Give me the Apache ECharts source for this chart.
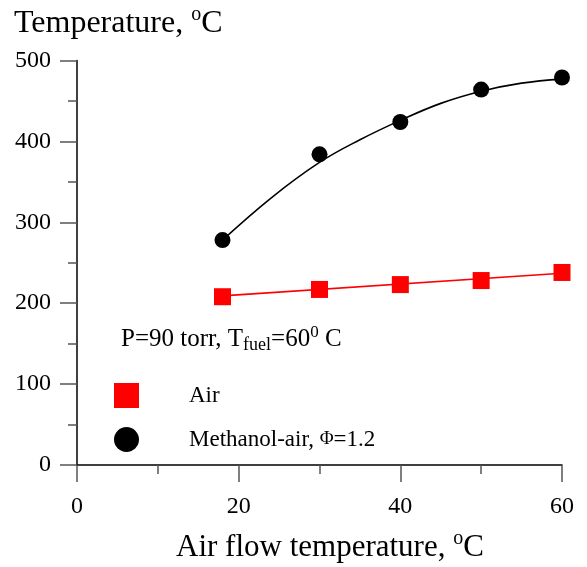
<!DOCTYPE html>
<html>
<head>
<meta charset="utf-8">
<script src="https://cdn.jsdelivr.net/npm/echarts@6/dist/echarts.min.js"></script>
<style>
  html, body { margin: 0; padding: 0; background: #fff; }
  #chart { width: 587px; height: 567px; }
</style>
</head>
<body>
<div id="chart"></div>
<script>
// measured points
const airFlowTemp = [18, 30, 40, 50, 60]
const airTemp = [208, 217, 223, 228, 238]
const methanolTemp = [278, 384, 424, 464, 479]

// fitted curves
const airFitX = [18, 60]
const airFitTemp = [209, 237]
const methanolFitX = [18, 24, 30, 35, 40, 45, 50, 55, 60]
const methanolFitTemp = [278, 330, 374, 402, 426, 447, 462, 472, 477]

const xTicks = [0, 20, 40, 60]
const yTicks = [0, 100, 200, 300, 400, 500]

const FONT = '"Liberation Serif", "Times New Roman", serif'

const pairs = (xs, ys) => xs.map((x, i) => [x, ys[i]])

const chart = echarts.init(document.getElementById('chart'))

const option = {
	animation: false,
	grid: { left: 77, right: 25, top: 60.5, bottom: 102, containLabel: false },
	xAxis: {
		type: 'value',
		min: xTicks[0],
		max: xTicks[xTicks.length - 1],
		interval: 20,
		axisLine: { show: true, onZero: false, lineStyle: { color: '#000', width: 1.5 } },
		axisTick: { show: true, length: 17, lineStyle: { color: '#555', width: 1.5 } },
		minorTick: { show: true, splitNumber: 2, length: 9, lineStyle: { color: '#555', width: 1.5 } },
		splitLine: { show: false },
		axisLabel: { margin: 30, fontFamily: FONT, fontSize: 24, color: '#000' }
	},
	yAxis: {
		type: 'value',
		min: yTicks[0],
		max: yTicks[yTicks.length - 1],
		interval: 100,
		axisLine: { show: true, lineStyle: { color: '#000', width: 1.5 } },
		axisTick: { show: true, length: 17, lineStyle: { color: '#555', width: 1.5 } },
		minorTick: { show: true, splitNumber: 2, length: 9, lineStyle: { color: '#555', width: 1.5 } },
		splitLine: { show: false },
		axisLabel: { margin: 26, fontFamily: FONT, fontSize: 24, color: '#000' }
	},
	legend: {
		orient: 'vertical',
		left: 114,
		top: 383,
		itemWidth: 25,
		itemHeight: 25,
		itemGap: 19,
		padding: 0,
		data: [
			{ name: 'Air', icon: 'rect' },
			{ name: 'Methanol-air', icon: 'circle' }
		],
		formatter: (name) => name === 'Methanol-air' ? 'Methanol-air, {phi|Φ}=1.2' : name,
		textStyle: {
			fontFamily: FONT,
			fontSize: 23,
			color: '#000',
			padding: [0, 0, 0, 45],
			rich: {
				phi: { fontFamily: FONT, fontSize: 19, color: '#000' }
			}
		}
	},
	graphic: [
		{
			type: 'text',
			left: 14,
			top: 5,
			style: {
				text: '{a|Temperature, }{s|o}{a|C}',
				fill: '#000',
				rich: {
					a: { fontFamily: FONT, fontSize: 32, lineHeight: 38 },
					s: { fontFamily: FONT, fontSize: 20, lineHeight: 22, verticalAlign: 'top' }
				}
			}
		},
		{
			type: 'text',
			left: 176,
			top: 529,
			style: {
				text: '{a|Air flow temperature, }{s|o}{a|C}',
				fill: '#000',
				rich: {
					a: { fontFamily: FONT, fontSize: 31, lineHeight: 37 },
					s: { fontFamily: FONT, fontSize: 20, lineHeight: 22, verticalAlign: 'top' }
				}
			}
		},
		{
			type: 'text',
			left: 121,
			top: 324,
			style: {
				text: '{a|P=90 torr, T}{b|fuel}{a|=60}{c|0}{a| C}',
				fill: '#000',
				rich: {
					a: { fontFamily: FONT, fontSize: 25, lineHeight: 30 },
					b: { fontFamily: FONT, fontSize: 18, lineHeight: 16, verticalAlign: 'bottom' },
					c: { fontFamily: FONT, fontSize: 17, lineHeight: 16, verticalAlign: 'top' }
				}
			}
		}
	],
	series: [
		{
			name: 'Air fit',
			type: 'line',
			data: pairs(airFitX, airFitTemp),
			showSymbol: false,
			lineStyle: { color: '#ff0000', width: 1.6 },
			z: 1
		},
		{
			name: 'Methanol-air fit',
			type: 'line',
			smooth: 0.4,
			data: pairs(methanolFitX, methanolFitTemp),
			showSymbol: false,
			lineStyle: { color: '#000', width: 1.6 },
			z: 1
		},
		{
			name: 'Air',
			type: 'scatter',
			symbol: 'rect',
			symbolSize: 17,
			data: pairs(airFlowTemp, airTemp),
			itemStyle: { color: '#ff0000', opacity: 1 },
			z: 3
		},
		{
			name: 'Methanol-air',
			type: 'scatter',
			symbol: 'circle',
			symbolSize: 16,
			data: pairs(airFlowTemp, methanolTemp),
			itemStyle: { color: '#000', opacity: 1 },
			z: 3
		}
	]
}

chart.setOption(option)
</script>
</body>
</html>
